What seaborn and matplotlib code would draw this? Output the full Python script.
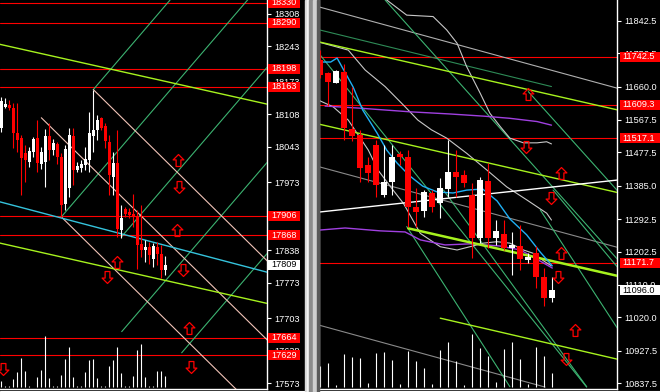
import numpy as np
import matplotlib
matplotlib.use("Agg")
import matplotlib.pyplot as plt
import seaborn as sns
from matplotlib.patches import Rectangle
from matplotlib.lines import Line2D
from matplotlib.path import Path

# ---------------- left chart (bars are indexed 0..41) ----------------
left_open = [18081, 18122, 18126, 18120, 18071, 18060, 18031, 18013, 18033, 18061, 18010, 18013, 18064, 18036,
             18048, 18024, 17929, 17961, 18064, 17997, 18002, 18007, 18017, 18064, 18076, 18101, 18084, 18053,
             17983, 18011, 17878, 17919, 17914, 17909, 17905, 17851, 17838, 17844, 17821, 17844, 17830, 17798]
left_high = [18142, 18140, 18136, 18130, 18130, 18066, 18046, 18043, 18063, 18096, 18043, 18078, 18090, 18058,
             18053, 18031, 18046, 18080, 18080, 18013, 18017, 18043, 18113, 18157, 18106, 18103, 18090, 18066,
             18033, 18076, 17927, 17923, 17921, 17949, 17917, 17927, 17858, 17854, 17852, 17854, 17848, 17826]
left_low = [18073, 18120, 18116, 18040, 18032, 17947, 17973, 18003, 18023, 17993, 18000, 17964, 18017, 18027,
            18010, 17904, 17917, 17943, 17967, 17993, 17993, 17997, 17993, 18033, 18056, 18076, 18040, 17947,
            17947, 17864, 17862, 17904, 17901, 17884, 17801, 17825, 17815, 17811, 17805, 17808, 17782, 17788]
left_close = [18134, 18128, 18120, 18070, 18056, 18021, 18017, 18035, 18058, 18011, 18033, 18064, 18036, 18050,
              18023, 17927, 18038, 18066, 17997, 18005, 18009, 18019, 18070, 18076, 18097, 18080, 18054, 17987,
              18011, 17879, 17901, 17909, 17907, 17904, 17849, 17838, 17844, 17829, 17846, 17830, 17799, 17809]
left_volume = [120, 20, 20, 160, 300, 580, 320, 20, 10, 200, 340, 1040, 180, 20, 20, 240, 560, 800, 200, 20, 20,
               300, 540, 560, 180, 20, 20, 420, 540, 800, 280, 20, 20, 220, 740, 860, 200, 20, 20, 320, 320, 220]
left_levels = [18330, 18290, 18198, 18163, 17906, 17868, 17664, 17629]
left_last = 17809
left_ticks = [18308, 18243, 18173, 18108, 18043, 17973, 17908, 17838, 17773, 17703, 17638, 17573]

# trend lines as (bar0, price0, bar1, price1)
left_fan_up = [(23, 18157, 45, 18361), (15, 17904, 70, 18413), (30, 17864, 70, 18234),
               (30.1, 17676, 70, 18045), (45.1, 17634, 70, 17864)]
left_fan_down = [(10, 18101, 70, 17632), (23, 18157, 70, 17789), (15, 17904, 70, 17473)]
left_cyan = (-0.4, 17934, 66.5, 17794)
left_channel = [(-0.4, 18247, 66.5, 18128), (-0.4, 17852, 66.5, 17732)]
left_arrows_up = [(44.1, 18017), (44.0, 17878), (28.85, 17815), (46.9, 17684)]
left_arrows_down = [(44.4, 17964), (45.4, 17798), (26.4, 17784), (47.4, 17606), (0.5, 17601)]

# ---------------- right chart (bars are indexed 0..29) ----------------
right_open = [11733.6, 11696.7, 11670.7, 11699.5, 11542.3, 11525.7, 11442.6, 11498.0, 11359.4, 11396.3,
              11473.1, 11465.6, 11327.0, 11315.9, 11365.8, 11336.4, 11375.2, 11424.0, 11414.8, 11359.4,
              11239.4, 11398.2, 11239.4, 11251.3, 11213.4, 11218.1, 11179.3, 11199.5, 11131.3, 11074.8]
right_high = [11761.3, 11701.2, 11705.9, 11722.5, 11658.8, 11539.6, 11465.6, 11511.9, 11498.0, 11498.0,
              11481.4, 11484.1, 11378.8, 11373.3, 11373.3, 11405.7, 11511.9, 11484.1, 11428.7, 11391.8,
              11410.1, 11449.0, 11290.1, 11290.1, 11257.7, 11276.3, 11198.7, 11218.1, 11156.2, 11133.0]
right_low = [11683.7, 11606.1, 11669.0, 11511.9, 11509.1, 11396.3, 11396.3, 11354.7, 11354.7, 11359.4,
             11442.6, 11271.6, 11271.6, 11299.3, 11313.1, 11294.8, 11354.7, 11354.7, 11382.4, 11184.0,
             11225.5, 11211.7, 11220.8, 11207.0, 11137.7, 11151.5, 11170.9, 11100.8, 11051.8, 11063.7]
right_close = [11692.0, 11673.5, 11703.1, 11544.3, 11523.0, 11434.3, 11419.6, 11387.1, 11396.3, 11465.6,
               11463.4, 11327.0, 11313.1, 11368.6, 11325.3, 11378.0, 11424.0, 11408.5, 11391.8, 11239.4,
               11401.0, 11239.4, 11259.6, 11211.7, 11220.8, 11181.2, 11188.4, 11132.9, 11074.8, 11096.0]
right_volume = [426, 486, 46, 666, 606, 586, 86, 686, 706, 546, 66, 726, 526, 386, 66, 746, 906, 526, 46,
                1066, 786, 626, 106, 766, 906, 566, 66, 806, 626, 286]
right_levels = [11742.5, 11609.3, 11517.1, 11171.7]
right_last = 11096.0
right_ticks = [11842.5, 11752.5, 11660.0, 11567.5, 11477.5, 11385.0, 11292.5, 11202.5,
               11110.0, 11020.0, 10927.5, 10837.5]

right_fan = [(-0.1, 11750, 33.3, 10827), (8.1, 11900, 37.2, 11180), (26.0, 11646, 37.2, 11370),
             (10.8, 11272, 23.7, 10828), (15.4, 11373, 33.3, 10828), (29.1, 11373, 37.2, 11158),
             (27.5, 11318, 37.2, 10988)]
right_channel = [(-0.2, 11784, 37.2, 11595), (-0.2, 11556, 37.2, 11366)]
right_channel_thick = (11, 11267, 37.2, 11135)
right_channel_low = (15.0, 11018, 37.2, 10904)
right_gray_top = (-0.2, 11881, 37.2, 11655)
right_darkgreen = (-0.1, 11817, 28.9, 11660)
right_gray_mid = (-0.2, 11438, 37.2, 11214)
right_gray_low = (-0.2, 10999, 28.1, 10827)
right_white = (-0.2, 11312, 37.2, 11401)

purple_hi_x = [0.6, 5.0, 11.2, 16.2, 20.4, 23.7, 27.1, 28.9]
purple_hi_y = [11606, 11600, 11590, 11584, 11578, 11572, 11563, 11553]
purple_lo_x = [-0.2, 3.1, 7.5, 10.6, 12.5, 15.6, 18.7, 22.5, 25.0, 26.8, 29.0]
purple_lo_y = [11262, 11268, 11260, 11257, 11235, 11221, 11224, 11218, 11207, 11185, 11157]
cyan_x = [-0.2, 1.3, 2.1, 2.8, 4.1, 5.3, 7.1, 8.3, 9.6, 11.2, 12.8, 14.6, 16.6, 18.3, 20.3, 22.1, 23.7,
          25.8, 27.5, 29.0]
cyan_y = [11728, 11728, 11739, 11711, 11659, 11595, 11531, 11484, 11448, 11412, 11384, 11368, 11365,
          11373, 11376, 11343, 11293, 11249, 11201, 11163]
band_hi_x = [5.0, 8.3, 10.8, 14.1, 15.8, 17.1, 18.3, 20.0, 21.2, 22.5, 23.7, 25.4, 27.1, 28.3, 28.9]
band_hi_y = [11983, 11900, 11858, 11854, 11817, 11780, 11715, 11641, 11586, 11549, 11517, 11504, 11504,
             11507, 11501]
band_mid_x = [-0.3, 3.5, 5.6, 8.1, 10.6, 12.2, 13.9, 15.8, 18.3, 20.8, 23.3, 25.8, 28.3, 28.9]
band_mid_y = [11784, 11761, 11706, 11660, 11604, 11567, 11540, 11517, 11475, 11429, 11382, 11346, 11309, 11290]
band_lo_x = [-0.3, 1.6, 3.5, 6.0, 7.2, 9.1, 10.4, 12.5, 15.0, 17.1, 18.7, 20.4, 22.1, 23.7, 25.4, 26.6,
             28.1, 28.9]
band_lo_y = [11623, 11604, 11567, 11484, 11429, 11373, 11336, 11253, 11216, 11207, 11216, 11226, 11230,
             11226, 11207, 11198, 11174, 11163]
right_arrows_up = [(26.0, 11638), (30.05, 11420), (30.05, 11198), (31.9, 10985)]
right_arrows_down = [(25.7, 11493), (28.8, 11350), (29.75, 11131), (30.7, 10904)]

GREEN = "#3cb371"
LIME = "#a6f21e"
PINK = "#f2c4b8"

sns.set_theme(style="dark", rc={"axes.facecolor": "black", "figure.facecolor": "black"})
plt.rcParams["font.family"] = ["Liberation Sans", "DejaVu Sans"]

W, H = 660, 392
fig = plt.figure(figsize=(6.6, 3.92), dpi=100)
ax_l = fig.add_axes([0 / W, 3 / H, 267 / W, 389 / H])
ax_r = fig.add_axes([319 / W, 3 / H, 298 / W, 389 / H])

# hollow block arrow used by the signal indicator
UP = Path([(0, 1), (0.9, 0.1), (0.4, 0.1), (0.4, -1), (-0.4, -1), (-0.4, 0.1), (-0.9, 0.1), (0, 1)],
          [Path.MOVETO] + [Path.LINETO] * 6 + [Path.CLOSEPOLY])
DOWN = Path([(x, -y) for x, y in UP.vertices], UP.codes)


def seg(ax, s, color, lw=0.8, z=3):
    sns.lineplot(x=[s[0], s[2]], y=[s[1], s[3]], ax=ax, color=color, lw=lw,
                 sort=False, estimator=None, zorder=z)


def curve(ax, xs, ys, color, lw=0.8):
    sns.lineplot(x=xs, y=ys, ax=ax, color=color, lw=lw, sort=False, estimator=None, zorder=3)


def candles(ax, o, h, l, c, width, minh):
    o, h, l, c = map(np.asarray, (o, h, l, c))
    x = np.arange(len(o))
    cols = np.where(c >= o, "white", "red")
    ax.vlines(x, l, h, colors=cols, lw=0.8, zorder=5)
    ax.bar(x, np.maximum(np.abs(c - o), minh), width, bottom=np.minimum(o, c),
           color=cols, linewidth=0, zorder=6)


def volumes(ax, vol, top, bottom):
    vax = ax.twinx()
    vax.vlines(np.arange(len(vol)), 0, vol, colors="white", lw=0.8)
    vax.set_ylim(bottom, top)
    vax.axis("off")


def axis_labels(ax, ticks, fmt, levels, last, x0_px, w_px, half_h):
    ax.yaxis.tick_right()
    ax.set_yticks(ticks)
    ax.set_yticklabels([fmt.format(t) for t in ticks])
    ax.tick_params(axis="y", colors="white", labelsize=6.6, length=3, width=0.8, pad=2.5,
                   right=True, left=False, labelright=True, labelleft=False)
    ax.tick_params(axis="x", bottom=False, labelbottom=False)
    tr = ax.get_yaxis_transform()
    xa = 1 + x0_px / ax.bbox.width
    wa = w_px / ax.bbox.width
    tags = [(p, "red", "white") for p in levels] + [(last, "white", "black")]
    for p, face, ink in tags:
        if face == "red":
            ax.axhline(p, color="red", lw=0.8, zorder=2)
        ax.add_patch(Rectangle((xa, p - half_h), wa, 2 * half_h, transform=tr, facecolor=face,
                               edgecolor="none", clip_on=False, zorder=19))
        ax.text(xa + 3 / ax.bbox.width, p, fmt.format(p), transform=tr, color=ink, fontsize=6.6,
                va="center", ha="left", clip_on=False, zorder=20)


def arrows(ax, ups, downs):
    for pts, mk in ((ups, UP), (downs, DOWN)):
        xs = [p[0] for p in pts]
        ys = [p[1] for p in pts]
        ax.plot(xs, ys, ls="none", marker=mk, ms=8.6, mfc="none", mec="red", mew=0.9, zorder=8)


# ---- left panel ----
volumes(ax_l, left_volume, 7780, -34)
for s in left_fan_up:
    seg(ax_l, s, GREEN)
for s in left_fan_down:
    seg(ax_l, s, PINK)
seg(ax_l, left_cyan, "#35c3dc", lw=1.0)
for s in left_channel:
    seg(ax_l, s, LIME, lw=1.0)
candles(ax_l, left_open, left_high, left_low, left_close, 0.75, 2.0)
arrows(ax_l, left_arrows_up, left_arrows_down)
ax_l.set_xlim(-0.33, 66.43)
ax_l.set_ylim(17562, 18335)
# tag half height: 5 px in price units
axis_labels(ax_l, left_ticks, "{:.0f}", left_levels, left_last, 1.0, 32, 5 * (18335 - 17562) / 389)

# ---- right panel ----
volumes(ax_r, right_volume, 7780, -40)
seg(ax_r, right_gray_top, "#b0b0b0")
seg(ax_r, right_darkgreen, "#2e8b57")
seg(ax_r, right_gray_mid, "#8a8a8a")
seg(ax_r, right_gray_low, "#8a8a8a")
for s in right_fan:
    seg(ax_r, s, GREEN)
curve(ax_r, band_hi_x, band_hi_y, "#c8c8c8")
curve(ax_r, band_mid_x, band_mid_y, "#c8c8c8")
curve(ax_r, band_lo_x, band_lo_y, "#c8c8c8")
curve(ax_r, purple_hi_x, purple_hi_y, "#a040e0", lw=1.0)
curve(ax_r, purple_lo_x, purple_lo_y, "#a040e0", lw=1.0)
for s in right_channel:
    seg(ax_r, s, LIME, lw=1.0)
seg(ax_r, right_channel_thick, LIME, lw=1.8)
seg(ax_r, right_channel_low, LIME, lw=1.0)
curve(ax_r, cyan_x, cyan_y, "#1fb0f5", lw=1.0)
seg(ax_r, right_white, "white", lw=1.0)
candles(ax_r, right_open, right_high, right_low, right_close, 0.72, 4.0)
arrows(ax_r, right_arrows_up, right_arrows_down)
ax_r.set_xlim(-0.16, 37.09)
ax_r.set_ylim(10821.7, 11899.9)
axis_labels(ax_r, right_ticks, "{:.1f}", right_levels, right_last, 2.5, 40,
            5 * (11899.9 - 10821.7) / 389)

for ax in (ax_l, ax_r):
    ax.grid(False)
    for side in ("top", "left", "right", "bottom"):
        ax.spines[side].set_visible(False)
    for side in ("right", "bottom"):
        ax.spines[side].set_visible(True)
        ax.spines[side].set_color("white")
        ax.spines[side].set_linewidth(1.0)
ax_r.spines["left"].set_visible(True)
ax_r.spines["left"].set_color("white")
ax_r.spines["left"].set_linewidth(1.0)

# window frame between the two charts
for x0, w, c in [(305, 2, "#d8d8d8"), (307, 2, "#f2f2f2"), (309, 4, "#8c8c8c"),
                 (313, 3.5, "#d0d0d0"), (316.5, 2, "#5a5a5a")]:
    fig.add_artist(Rectangle((x0 / W, 0), w / W, 1, transform=fig.transFigure, color=c, zorder=30))
fig.add_artist(Line2D([0, 305 / W], [1 / H, 1 / H], transform=fig.transFigure, color="white", lw=0.8))
fig.add_artist(Line2D([319 / W, 1], [1 / H, 1 / H], transform=fig.transFigure, color="white", lw=0.8))

fig.savefig("out.png", dpi=100, facecolor="black")
